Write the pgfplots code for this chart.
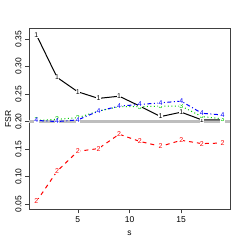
\documentclass[border=0pt]{standalone}
\usepackage{pgfplots}
\pgfplotsset{compat=1.18}
\usepackage{fontspec}
\setmainfont{Liberation Sans}
\definecolor{rgreen}{HTML}{00CD00}
\definecolor{rgray}{HTML}{BEBEBE}
\newcommand{\mk}{\fontsize{7}{7}\selectfont}
\begin{document}
\begin{tikzpicture}[x=1pt,y=1pt]
\path[use as bounding box] (0,0) rectangle (245,245);
\begin{axis}[
  at={(29pt,35.7pt)}, anchor=south west,
  scale only axis, width=201pt, height=181pt,
  xmin=0.28, xmax=19.72, ymin=0.0408, ymax=0.3692,
  axis line style={black!75, line width=0.6pt},
  xtick pos=bottom, ytick pos=left,
  tick align=outside, tick style={black!75, line width=0.6pt},
  major tick length=4pt,
  xtick={5,10,15}, ytick={0.05,0.10,0.15,0.20,0.25,0.30,0.35},
  yticklabel style={/pgf/number format/fixed, /pgf/number format/fixed zerofill, /pgf/number format/precision=2, rotate=90, anchor=south, font=\fontsize{8.5}{10}\selectfont},
  xticklabel style={font=\fontsize{8.5}{10}\selectfont},
  /pgf/number format/assume math mode=true,
  xlabel={s}, ylabel={FSR},
  xlabel style={at={(axis description cs:0.5,-0.131)}, anchor=center, font=\fontsize{8.5}{10}\selectfont},
  ylabel style={at={(axis description cs:-0.104,0.5)}, anchor=center, font=\fontsize{8.5}{10}\selectfont},
  clip=false,
  text mark as node=true,
]
\addplot[rgray, line width=2.8pt, forget plot] coordinates {(0.28,0.2) (19.72,0.2)};
\addplot[black, line width=1.0pt, mark=text, text mark={1}, text mark style={font=\mk, fill=white, text=black, inner sep=0.3pt, solid}] coordinates {
(1,0.357) (3,0.280) (5,0.254) (7,0.242) (9,0.246) (11,0.228) (13,0.209) (15,0.217) (17,0.203) (19,0.203)};
\addplot[red, line width=1.0pt, dash pattern=on 4pt off 4pt, mark=text, text mark={2}, text mark style={font=\mk, fill=white, text=red, inner sep=0.3pt, solid}] coordinates {
(1,0.055) (3,0.110) (5,0.146) (7,0.151) (9,0.177) (11,0.164) (13,0.155) (15,0.166) (17,0.160) (19,0.161)};
\addplot[rgreen, line width=1.0pt, dash pattern=on 1pt off 2.5pt, mark=text, text mark={3}, text mark style={font=\mk, fill=white, text=rgreen, inner sep=0.3pt, solid}] coordinates {
(1,0.202) (3,0.204) (5,0.207) (7,0.219) (9,0.227) (11,0.227) (13,0.228) (15,0.228) (17,0.209) (19,0.205)};
\addplot[blue, line width=1.0pt, dash pattern=on 1pt off 2.5pt on 4pt off 2.5pt, mark=text, text mark={4}, text mark style={font=\mk, fill=white, text=blue, inner sep=0.3pt, solid}] coordinates {
(1,0.202) (3,0.200) (5,0.203) (7,0.219) (9,0.228) (11,0.231) (13,0.234) (15,0.237) (17,0.215) (19,0.212)};
\end{axis}
\end{tikzpicture}
\end{document}
